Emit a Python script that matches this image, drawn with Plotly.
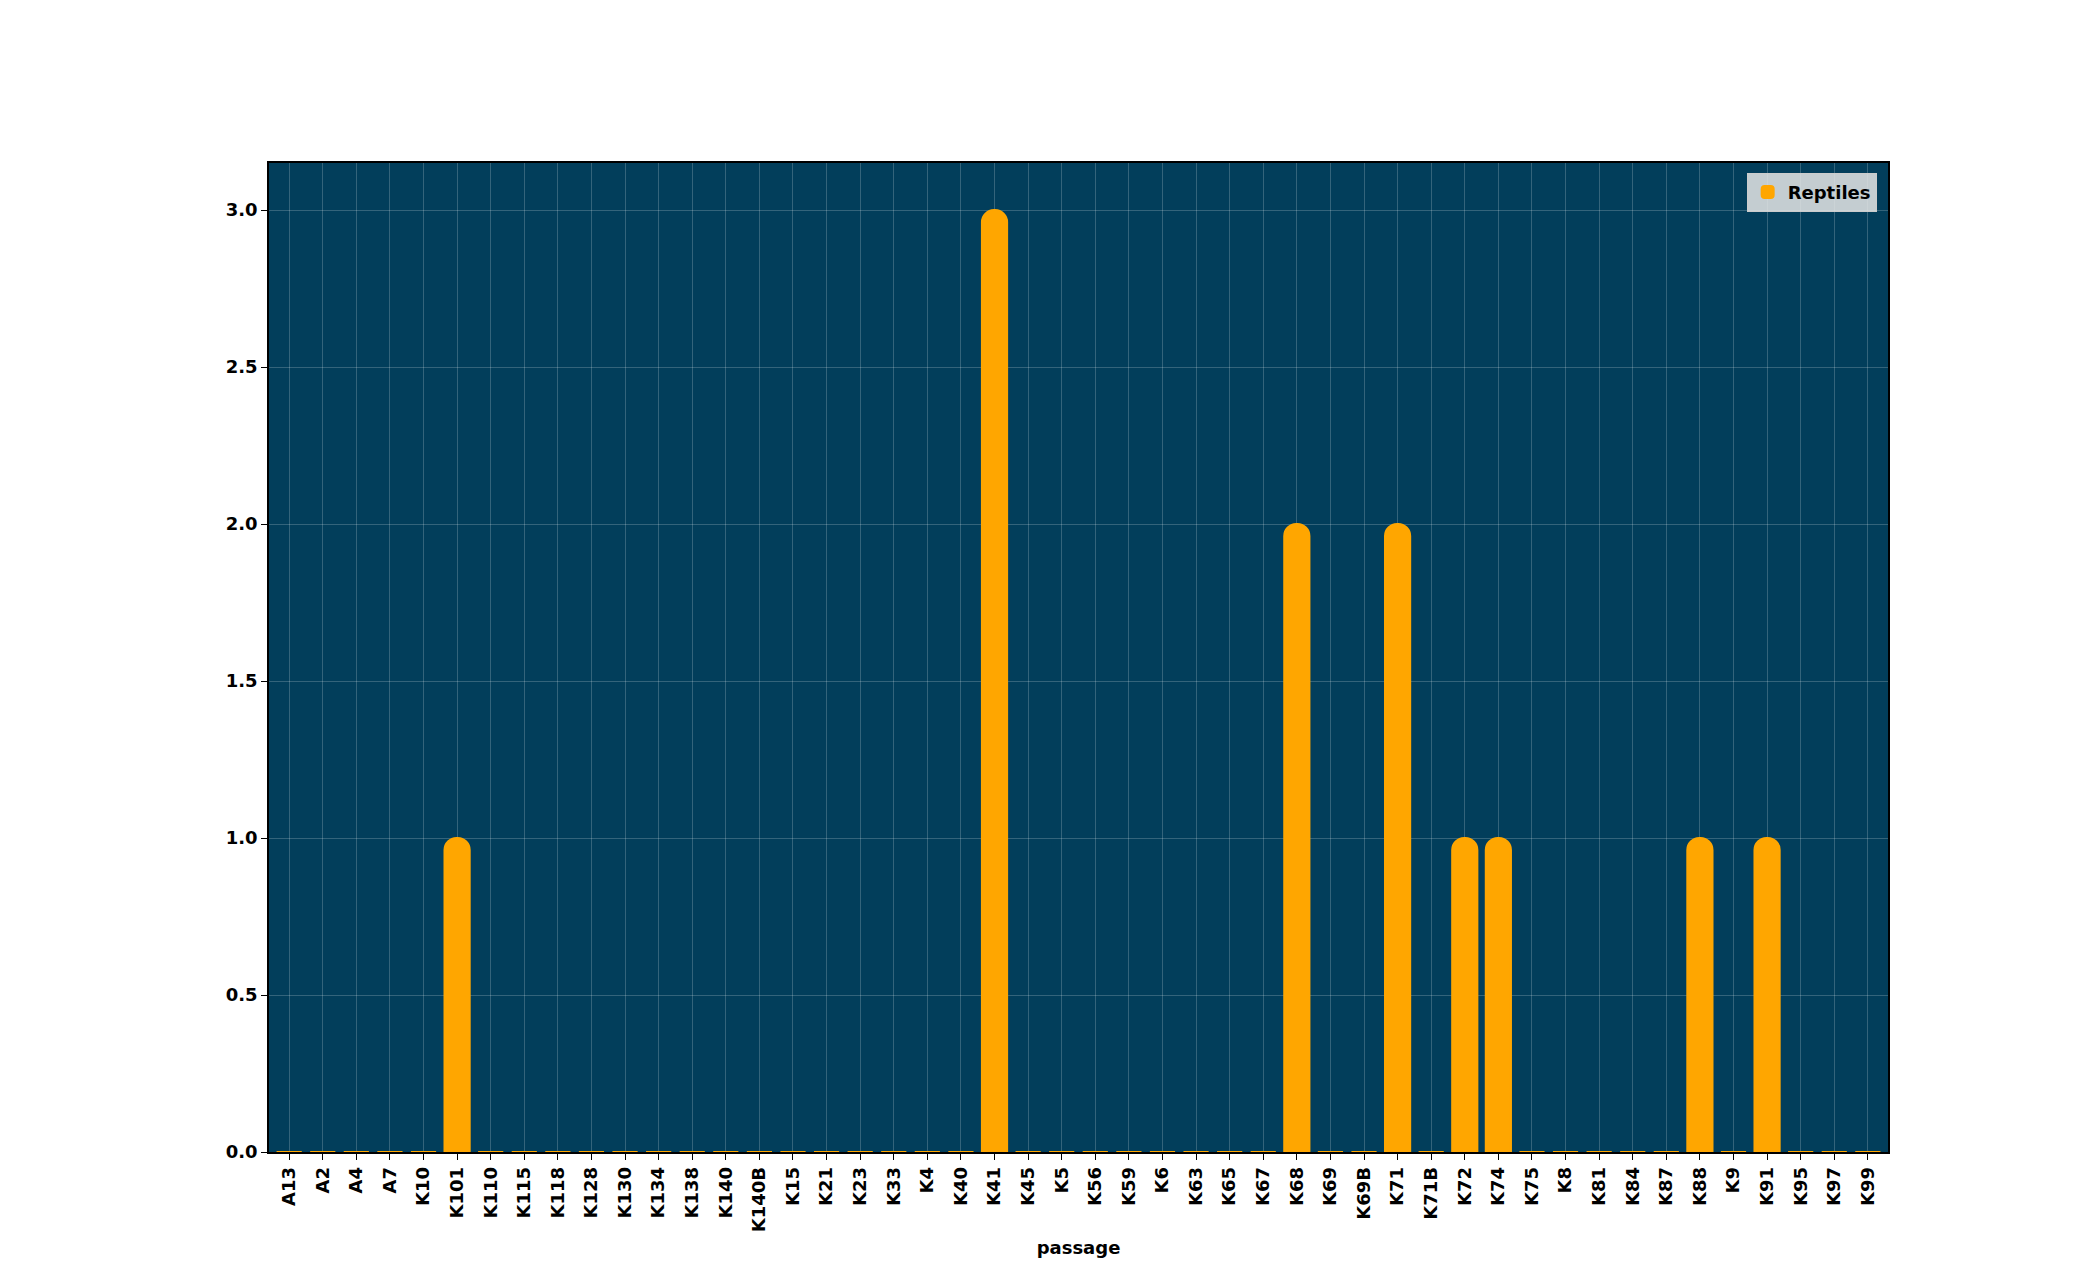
import plotly.graph_objects as go

passages = ["A13", "A2", "A4", "A7", "K10", "K101", "K110", "K115", "K118", "K128",
            "K130", "K134", "K138", "K140", "K140B", "K15", "K21", "K23", "K33", "K4",
            "K40", "K41", "K45", "K5", "K56", "K59", "K6", "K63", "K65", "K67",
            "K68", "K69", "K69B", "K71", "K71B", "K72", "K74", "K75", "K8", "K81",
            "K84", "K87", "K88", "K9", "K91", "K95", "K97", "K99"]
reptiles = [0, 0, 0, 0, 0, 1, 0, 0, 0, 0,
            0, 0, 0, 0, 0, 0, 0, 0, 0, 0,
            0, 3, 0, 0, 0, 0, 0, 0, 0, 0,
            2, 0, 0, 2, 0, 1, 1, 0, 0, 0,
            0, 0, 1, 0, 1, 0, 0, 0]

font = dict(family="DejaVu Sans", size=16, color="black")

fig = go.Figure()
fig.add_trace(go.Bar(
    x=passages, y=reptiles, name="Reptiles", width=0.75,
    marker=dict(color="#ffa600", cornerradius=12, line=dict(color="#ffa600", width=2)),
))

fig.update_layout(
    width=2080, height=1280,
    margin=dict(l=261, r=200, t=155, b=136),
    paper_bgcolor="white", plot_bgcolor="#023e5b",
    font=font, bargap=0.2,
    showlegend=True,
    legend=dict(x=0.993, y=0.99, xanchor="right", yanchor="top",
                bgcolor="rgba(230,230,230,0.85)", bordercolor="#cccccc", borderwidth=1,
                font=dict(family="DejaVu Sans", size=18, color="black", weight="bold")),
)
fig.update_xaxes(
    title=dict(text="<b>passage</b>", font=dict(size=18), standoff=10),
    tickangle=-90, tickfont=dict(size=18, weight="bold"),
    ticks="outside", ticklen=6, tickcolor="black",
    showgrid=True, gridcolor="rgba(255,255,255,0.2)",
    showline=True, linecolor="black", mirror=True, linewidth=1.5,
    range=[-0.6, len(passages) - 0.4],
)
fig.update_yaxes(
    range=[0, 3.15], dtick=0.5, tickformat=".1f",
    tickfont=dict(size=18, weight="bold"),
    ticks="outside", ticklen=6, tickcolor="black",
    showgrid=True, gridcolor="rgba(255,255,255,0.2)", zeroline=False,
    showline=True, linecolor="black", mirror=True, linewidth=1.5,
)

fig.write_html("out.html")
